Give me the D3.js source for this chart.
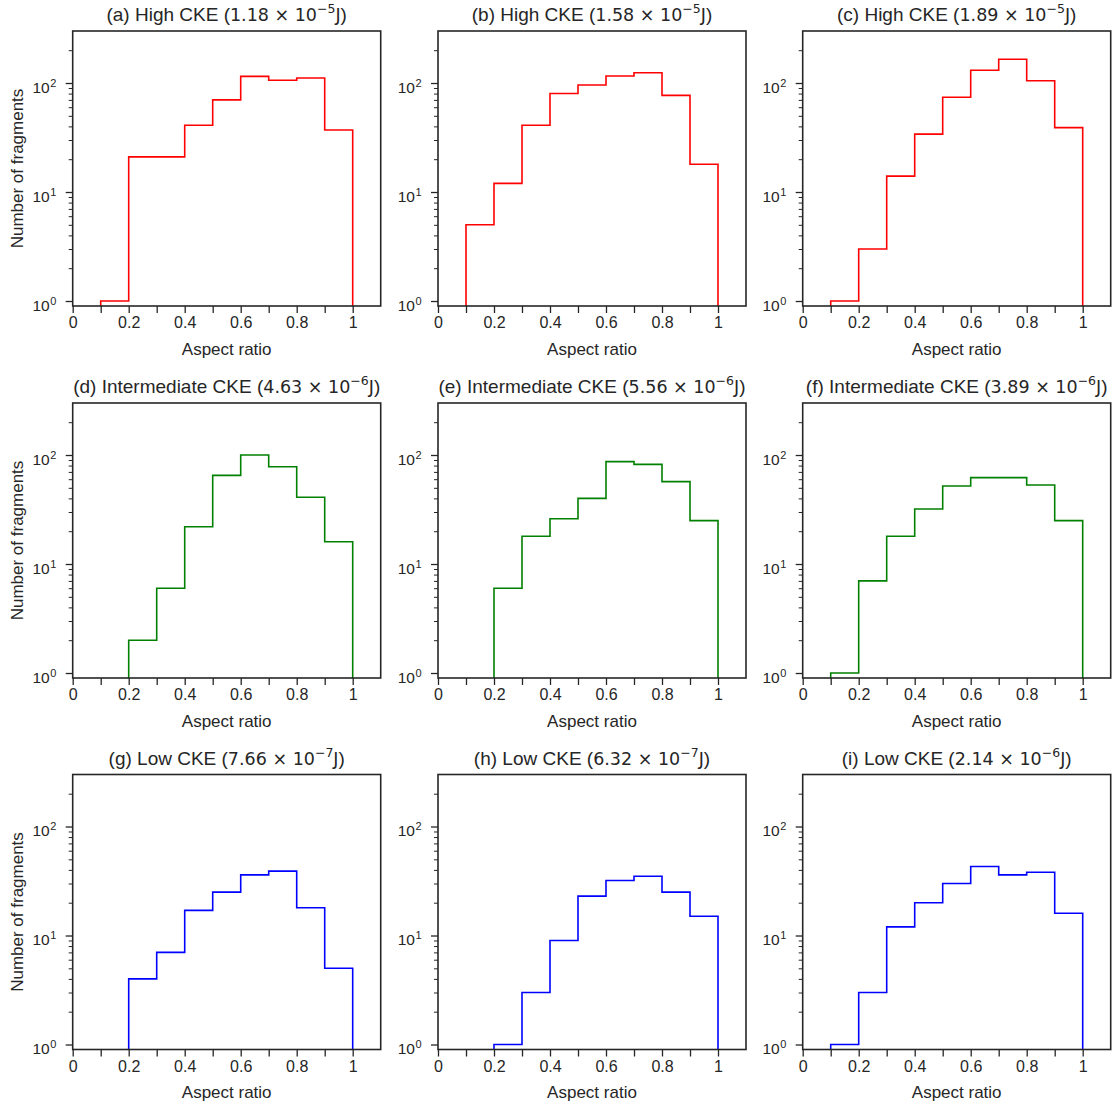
<!DOCTYPE html>
<html>
<head>
<meta charset="utf-8">
<script src="https://cdn.jsdelivr.net/npm/d3@7"></script>
<style>
  html, body { margin: 0; padding: 0; background: #fff; }
  svg { display: block; }
  text { font-family: "Liberation Sans", Arial, sans-serif; fill: #262626; }
</style>
</head>
<body>
<svg id="chart" width="1116" height="1108"></svg>
<script>
// ---- data ----
const binEdges = [0, 0.1, 0.2, 0.3, 0.4, 0.5, 0.6, 0.7, 0.8, 0.9, 1.0];
const countsA = [0, 1, 21, 21, 41, 70, 115, 106, 111, 37];
const countsB = [0, 5, 12, 41, 80, 96, 116, 124, 77, 18];
const countsC = [0, 1, 3, 14, 34, 74, 131, 165, 105, 39];
const countsD = [0, 0, 2, 6, 22, 65, 100, 78, 41, 16];
const countsE = [0, 0, 6, 18, 26, 40, 87, 82, 57, 25];
const countsF = [0, 1, 7, 18, 32, 52, 62, 62, 53, 25];
const countsG = [0, 0, 4, 7, 17, 25, 36, 39, 18, 5];
const countsH = [0, 0, 1, 3, 9, 23, 32, 35, 25, 15];
const countsI = [0, 1, 3, 12, 20, 30, 43, 36, 38, 16];

const panelLetters = ["a", "b", "c", "d", "e", "f", "g", "h", "i"];
const panelLevels = ["High", "High", "High", "Intermediate", "Intermediate", "Intermediate", "Low", "Low", "Low"];
const energyMantissa = ["1.18", "1.58", "1.89", "4.63", "5.56", "3.89", "7.66", "6.32", "2.14"];
const energyExponent = ["\u22125", "\u22125", "\u22125", "\u22126", "\u22126", "\u22126", "\u22127", "\u22127", "\u22126"];
const panelCounts = [countsA, countsB, countsC, countsD, countsE, countsF, countsG, countsH, countsI];

const xTickValues = [0, 0.1, 0.2, 0.3, 0.4, 0.5, 0.6, 0.7, 0.8, 0.9, 1.0];
const xTickLabels = ["0", "", "0.2", "", "0.4", "", "0.6", "", "0.8", "", "1"];
const yMajorTicks = [1, 10, 100];
const yMajorExp = ["0", "1", "2"];
const yMinorTicks = [2, 3, 4, 5, 6, 7, 8, 9, 20, 30, 40, 50, 60, 70, 80, 90, 200];
const xDomain = [0, 1.1];
const yDomain = [0.9, 300];
const xLabel = "Aspect ratio";
const yLabel = "Number of fragments";

// ---- layout ----
const rowColors = ["#ff0000", "#008000", "#0000ff"];
const colLeft = [72.7, 438, 802.7];
const rowTop = [31, 403, 774.5];
const plotW = 308, plotH = 275;
const ink = "#262626";

const svg = d3.select("#chart");

panelCounts.forEach((counts, idx) => {
  const r = Math.floor(idx / 3), c = idx % 3;
  const g = svg.append("g").attr("transform", `translate(${colLeft[c]},${rowTop[r]})`);
  const x = d3.scaleLinear().domain(xDomain).range([0, plotW]);
  const y = d3.scaleLog().domain(yDomain).range([plotH, 0]);

  const clipId = "clip" + idx;
  g.append("clipPath").attr("id", clipId)
    .append("rect").attr("x", 0).attr("y", 0).attr("width", plotW).attr("height", plotH);

  // histogram step path
  const floorVal = 0.3;
  const pts = [[binEdges[0], floorVal]];
  counts.forEach((v, i) => {
    const vv = v > 0 ? v : floorVal;
    pts.push([binEdges[i], vv]);
    pts.push([binEdges[i + 1], vv]);
  });
  pts.push([binEdges[binEdges.length - 1], floorVal]);
  const line = d3.line().x(d => x(d[0])).y(d => y(d[1]));
  g.append("path")
    .attr("clip-path", `url(#${clipId})`)
    .attr("d", line(pts))
    .attr("fill", "none")
    .attr("stroke", rowColors[r])
    .attr("stroke-width", 1.6)
    .attr("stroke-linejoin", "miter");

  // x axis
  const xAxis = d3.axisBottom(x).tickValues(xTickValues).tickSize(7).tickPadding(4)
    .tickFormat((d, i) => xTickLabels[i]);
  const gx = g.append("g").attr("transform", `translate(0,${plotH})`).call(xAxis);
  gx.select(".domain").remove();
  gx.selectAll(".tick line").attr("stroke", ink).attr("stroke-width", 1.3);
  gx.selectAll(".tick text").attr("font-size", 16).attr("fill", ink)
    .attr("font-family", '"Liberation Sans", Arial, sans-serif');

  // y axis minor
  const yMinor = d3.axisLeft(y).tickValues(yMinorTicks).tickSize(4).tickFormat("");
  const gym = g.append("g").call(yMinor);
  gym.select(".domain").remove();
  gym.selectAll(".tick line").attr("stroke", ink).attr("stroke-width", 1);

  // y axis major
  const yMajor = d3.axisLeft(y).tickValues(yMajorTicks).tickSize(7).tickFormat("");
  const gyM = g.append("g").call(yMajor);
  gyM.select(".domain").remove();
  gyM.selectAll(".tick line").attr("stroke", ink).attr("stroke-width", 1.3);

  // y major labels 10^n
  yMajorTicks.forEach((t, i) => {
    const ty = y(t);
    g.append("text").attr("x", -23).attr("y", ty + 9.5)
      .attr("text-anchor", "end").attr("font-size", 15.5).text("10");
    g.append("text").attr("x", -22.5).attr("y", ty + 3.5)
      .attr("text-anchor", "start").attr("font-size", 11).text(yMajorExp[i]);
  });

  // frame
  g.append("rect").attr("x", 0).attr("y", 0).attr("width", plotW).attr("height", plotH)
    .attr("fill", "none").attr("stroke", ink).attr("stroke-width", 1.6);

  // x label
  g.append("text").attr("x", plotW / 2).attr("y", plotH + 48.5)
    .attr("text-anchor", "middle").attr("font-size", 17).text(xLabel);

  // y label (first column)
  if (c === 0) {
    g.append("text")
      .attr("transform", `translate(${-49.5},${plotH / 2}) rotate(-90)`)
      .attr("text-anchor", "middle").attr("font-size", 17).text(yLabel);
  }

  // title
  const t = g.append("text").attr("x", plotW / 2).attr("y", -10)
    .attr("text-anchor", "middle").attr("font-size", 19);
  t.append("tspan").text(`(${panelLetters[idx]}) ${panelLevels[idx]} CKE (`);
  t.append("tspan").attr("font-family", '"DejaVu Sans", sans-serif').attr("font-size", 17.5)
    .text(`${energyMantissa[idx]} \u00d7 10`);
  t.append("tspan").attr("font-family", '"DejaVu Sans", sans-serif').attr("font-size", 12.5)
    .attr("dy", -8).text(energyExponent[idx]);
  t.append("tspan").attr("dy", 8).attr("font-family", '"DejaVu Sans", sans-serif').attr("font-size", 17.5).text("J");
  t.append("tspan").text(")");
});
</script>
</body>
</html>
